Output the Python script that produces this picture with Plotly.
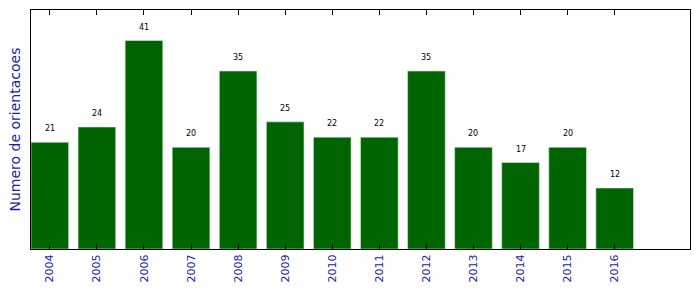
import plotly.graph_objects as go

years = [2004, 2005, 2006, 2007, 2008, 2009, 2010, 2011, 2012, 2013, 2014, 2015, 2016]
counts = [21, 24, 41, 20, 35, 25, 22, 22, 35, 20, 17, 20, 12]
year_labels = [str(y) for y in years]

blue = "#1c1ca8"

fig = go.Figure()
fig.add_trace(go.Bar(
    x=years, y=counts, width=0.8,
    marker=dict(color="#006400", line=dict(color="#d8ecd8", width=0.6)),
    hoverinfo="x+y",
))

for x, v in zip(years, counts):
    fig.add_annotation(x=x, y=v, text=str(v), showarrow=False,
                       yanchor="bottom", yshift=7,
                       font=dict(family="DejaVu Sans", size=8, color="black"))

fig.add_annotation(xref="paper", yref="paper", x=0, y=0.5, xanchor="right",
                   yanchor="middle", xshift=-7, textangle=-90, showarrow=False,
                   text="Numero de orientacoes",
                   font=dict(family="DejaVu Sans", size=14, color=blue))

fig.update_layout(
    width=699, height=293,
    margin=dict(l=31, r=9, t=10, b=44),
    plot_bgcolor="white", paper_bgcolor="white",
    showlegend=False,
    xaxis=dict(range=[2003.6, 2017.6], tickmode="array", tickvals=years,
               ticktext=year_labels, tickangle=-90, ticks="inside", ticklen=5,
               tickcolor="black", mirror="allticks", showline=True,
               linecolor="black", linewidth=1, showgrid=False, zeroline=False,
               tickfont=dict(family="DejaVu Sans", size=11, color=blue)),
    yaxis=dict(range=[0, 47], showticklabels=False, ticks="", showgrid=False,
               zeroline=False, showline=True, mirror=True, linecolor="black",
               linewidth=1),
)

fig.write_html("out.html")
